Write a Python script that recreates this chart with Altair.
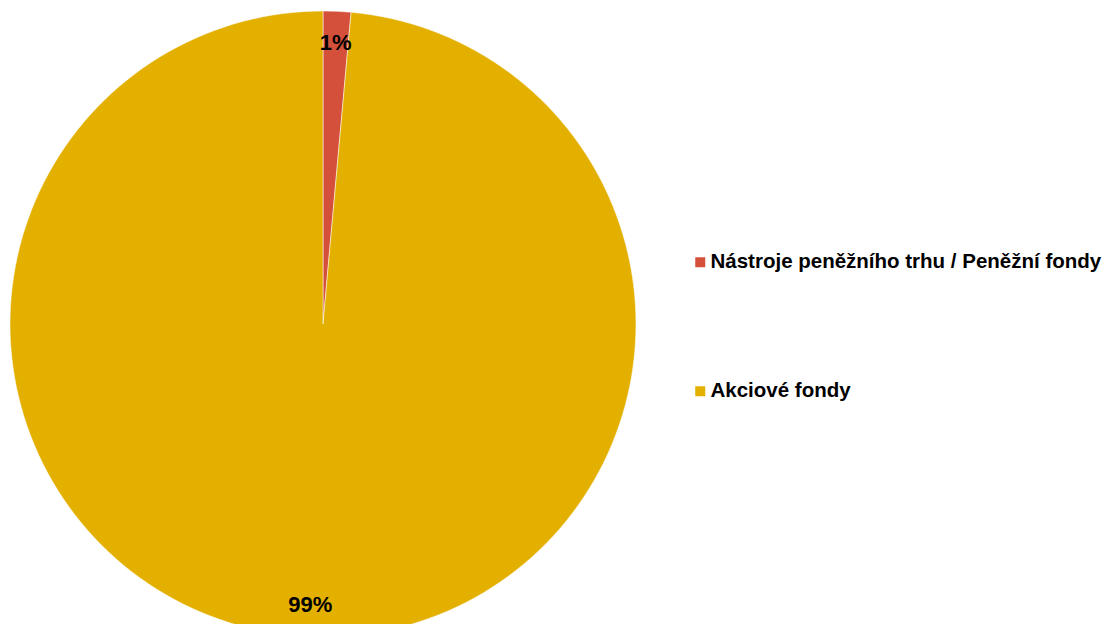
import altair as alt
import pandas as pd

categories = ["Nástroje peněžního trhu / Peněžní fondy", "Akciové fondy"]
values = [1.43, 98.57]
labels = ["1%", "99%"]
order = [0, 1]
colors = ["#D4503A", "#E4B000"]

df = pd.DataFrame({"cat": categories, "value": values, "label": labels, "ord": order})

base = alt.Chart(df).encode(
    theta=alt.Theta("value:Q", stack=True),
    order=alt.Order("ord:Q"),
)

pie = base.mark_arc(outerRadius=313, stroke="white", strokeWidth=0.5).encode(
    x=alt.value(315), y=alt.value(316),
    color=alt.Color(
        "cat:N",
        scale=alt.Scale(domain=categories, range=colors),
        sort=categories,
        legend=alt.Legend(
            title=None, orient="none", legendX=682, legendY=244,
            symbolType="square", symbolSize=100, symbolStrokeWidth=0,
            labelFont="Liberation Sans", labelFontWeight="bold", labelFontSize=20.5,
            labelColor="black", rowPadding=108, labelOffset=0, labelLimit=500,
        ),
    ),
)

text = base.mark_text(radius=281, font="Liberation Sans", fontWeight="bold", fontSize=22, color="black").encode(
    x=alt.value(315), y=alt.value(316),
    text="label:N",
)

chart = alt.layer(pie, text).properties(
    width=1104, height=616, padding=0, autosize=alt.AutoSizeParams(type="none"),
).configure_view(stroke=None)

chart.save("out.html", embed_options={"renderer": "svg", "actions": False})
